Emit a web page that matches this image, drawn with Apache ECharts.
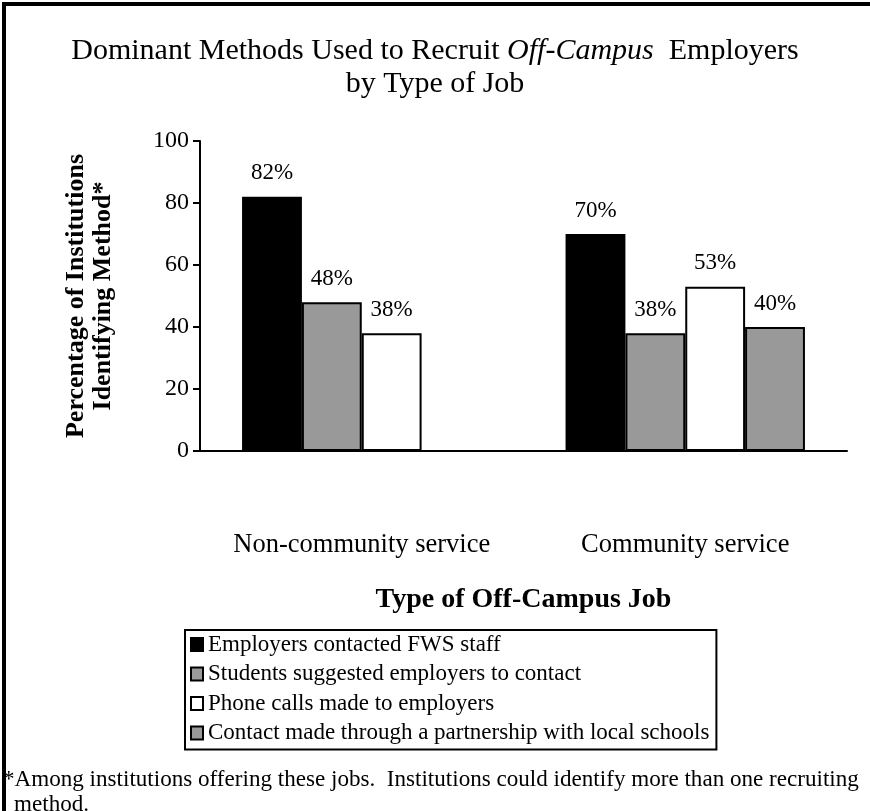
<!DOCTYPE html>
<html>
<head>
<meta charset="utf-8">
<script src="https://cdn.jsdelivr.net/npm/echarts@6/dist/echarts.min.js"></script>
<style>
  html, body { margin: 0; padding: 0; background: #fff; }
  #chart { width: 870px; height: 811px; }
</style>
</head>
<body>
<div id="chart"></div>
<script>
const serif = '"Liberation Serif", "Times New Roman", serif';

const jobTypes = ['Non-community service', 'Community service'];
const methodNames = [
    'Employers contacted FWS staff',
    'Students suggested employers to contact',
    'Phone calls made to employers',
    'Contact made through a partnership with local schools',
];
const employersContacted = [82, 70];
const studentsSuggested = [48, 38];
const phoneCalls = [38, 53];
const partnership = ['-', 40];
const yTicks = [0, 20, 40, 60, 80, 100];

const methodValues = [employersContacted, studentsSuggested, phoneCalls, partnership];
const methodColors = ['#000000', '#999999', '#ffffff', '#999999'];

const myChart = echarts.init(document.getElementById('chart'), null, { renderer: 'canvas' });

myChart.setOption({
    backgroundColor: '#fff',
    animation: false,
    textStyle: { fontFamily: serif, color: '#000' },
    title: {
        text: 'Dominant Methods Used to Recruit {i|Off-Campus}  Employers\nby Type of Job',
        left: 'center',
        top: 30,
        textStyle: {
            fontFamily: serif,
            fontWeight: 'normal',
            fontSize: 30,
            lineHeight: 33,
            color: '#000',
            rich: {
                i: { fontFamily: serif, fontStyle: 'italic', fontSize: 30, color: '#000' },
            },
        },
    },
    grid: { left: 200, right: 23, top: 141, bottom: 360 },
    legend: {
        data: methodNames,
        orient: 'vertical',
        left: 185,
        top: 630,
        padding: [3, 7, 5, 5],
        borderColor: '#000',
        borderWidth: 2,
        itemWidth: 12,
        itemHeight: 13,
        itemGap: 6.5,
        icon: 'rect',
        itemStyle: { borderColor: '#000', borderWidth: 2 },
        textStyle: { fontFamily: serif, fontSize: 23, color: '#000', lineHeight: 23 },
    },
    xAxis: {
        type: 'category',
        data: jobTypes,
        name: 'Type of Off-Campus Job',
        nameLocation: 'middle',
        nameGap: 135,
        nameTextStyle: { fontFamily: serif, fontWeight: 'bold', fontSize: 28, color: '#000' },
        axisLine: { lineStyle: { color: '#000', width: 2 } },
        axisTick: { length: 7, lineStyle: { color: '#000', width: 2 } },
        axisLabel: { interval: 0, margin: 81, fontFamily: serif, fontSize: 26.5, color: '#000' },
    },
    yAxis: {
        type: 'value',
        min: 0,
        max: 100,
        interval: 20,
        name: 'Percentage of Institutions\nIdentifying Method*',
        nameLocation: 'middle',
        nameGap: 83,
        nameRotate: 90,
        nameTextStyle: { fontFamily: serif, fontWeight: 'bold', fontSize: 26, lineHeight: 27, color: '#000' },
        splitLine: { show: false },
        axisLine: { show: true, lineStyle: { color: '#000', width: 2 } },
        axisTick: { show: true, length: 7, lineStyle: { color: '#000', width: 2 } },
        axisLabel: {
            margin: 11,
            fontFamily: serif,
            fontSize: 24,
            color: '#000',
            formatter(val) {
                return yTicks.includes(val) ? String(val) : '';
            },
        },
    },
    series: methodNames.map((name, i) => ({
        name,
        type: 'bar',
        data: methodValues[i],
        barGap: 0,
        barCategoryGap: '26%',
        itemStyle: { color: methodColors[i], borderColor: '#000', borderWidth: 2 },
        label: {
            show: true,
            position: 'top',
            distance: 12,
            fontFamily: serif,
            fontSize: 23,
            color: '#000',
            formatter: '{c}%',
        },
    })),
    graphic: [
        { type: 'rect', shape: { x: 2, y: 2, width: 4, height: 809 }, style: { fill: '#000' } },
        { type: 'rect', shape: { x: 2, y: 2, width: 868, height: 4 }, style: { fill: '#000' } },
        {
            type: 'text',
            left: 3,
            top: 768,
            style: {
                text: '*Among institutions offering these jobs.  Institutions could identify more than one recruiting',
                font: '23.1px ' + serif,
                fill: '#000',
            },
        },
        {
            type: 'text',
            left: 14,
            top: 793,
            style: { text: 'method.', font: '23.1px ' + serif, fill: '#000' },
        },
    ],
});
</script>
</body>
</html>
